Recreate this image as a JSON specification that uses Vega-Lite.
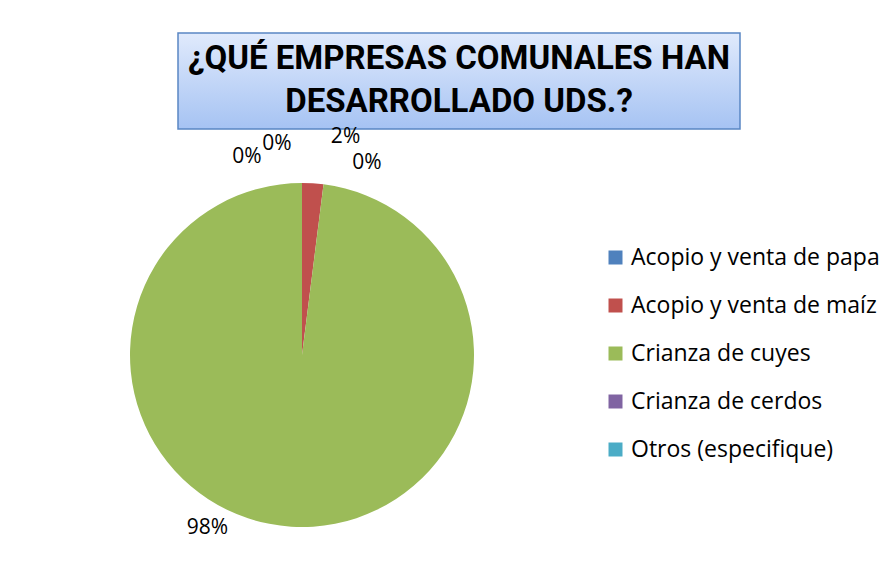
{
  "$schema": "https://vega.github.io/schema/vega-lite/v6.json",
  "background": "white",
  "padding": {"left": 130, "top": 32, "right": 0, "bottom": 0},
  "config": {"view": {"stroke": null}, "font": "Open Sans"},
  "bounds": "flush",
  "spacing": 140,
  "vconcat": [
    {
      "spacing": 0,
      "bounds": "flush",
      "hconcat": [
        {"width": 48, "height": 96, "data": {"values": []}, "mark": {"type": "text"}, "encoding": {}},
        {
          "width": 562,
          "height": 96,
          "data": {"values": [{"title": "¿QUÉ EMPRESAS COMUNALES HAN\nDESARROLLADO UDS.?"}]},
          "layer": [
            {
              "mark": {
                "type": "rect",
                "fill": {"gradient": "linear", "x1": 0, "y1": 0, "x2": 0, "y2": 1,
                  "stops": [{"offset": 0, "color": "#e0eafc"}, {"offset": 1, "color": "#a6c3f3"}]},
                "stroke": "#5a86c3",
                "strokeWidth": 1.5
              },
              "encoding": {}
            },
            {
              "mark": {"type": "text", "font": "Roboto", "fontWeight": "bold", "fontSize": 33, "lineBreak": "\n", "lineHeight": 43, "dy": -22, "align": "center", "baseline": "middle", "color": "black"},
              "encoding": {"text": {"field": "title"}}
            }
          ]
        }
      ]
    },
    {
      "width": 344,
      "height": 364,
      "data": {"values": [
        {"cat": "Acopio y venta de papa", "k": 1, "value": 0, "label": "0%"},
        {"cat": "Acopio y venta de maíz", "k": 2, "value": 2, "label": "2%"},
        {"cat": "Crianza de cuyes", "k": 3, "value": 98, "label": "98%"},
        {"cat": "Crianza de cerdos", "k": 4, "value": 0, "label": "0%"},
        {"cat": "Otros (especifique)", "k": 5, "value": 0, "label": "0%"}
      ]},
      "encoding": {
        "theta": {"field": "value", "type": "quantitative", "stack": true},
        "order": {"field": "k", "type": "quantitative"}
      },
      "layer": [
        {
          "mark": {"type": "arc", "outerRadius": 172},
          "encoding": {
            "color": {
              "field": "cat", "type": "nominal",
              "scale": {"domain": ["Acopio y venta de papa", "Acopio y venta de maíz", "Crianza de cuyes", "Crianza de cerdos", "Otros (especifique)"],
                        "range": ["#4f81bd", "#c0504d", "#9bbb59", "#8064a2", "#4bacc6"]},
              "legend": {"orient": "none", "legendX": 474, "legendY": 213, "title": null, "symbolType": "square", "symbolSize": 196, "symbolStrokeWidth": 0, "labelFontSize": 23, "labelFont": "Open Sans", "labelColor": "black", "rowPadding": 24, "labelOffset": 4, "labelLimit": 400}
            }
          }
        },
        {
          "mark": {
            "type": "text", "radius": 200, "fontSize": 21, "font": "Open Sans", "color": "black", "align": "center", "baseline": "middle",
            "dx": {"expr": "datum.cat === 'Acopio y venta de papa' ? 65 : datum.cat === 'Acopio y venta de maíz' ? 31 : datum.cat === 'Crianza de cuyes' ? -82 : datum.cat === 'Crianza de cerdos' ? -25 : -55"},
            "dy": {"expr": "datum.cat === 'Acopio y venta de papa' ? 8 : datum.cat === 'Acopio y venta de maíz' ? -18 : datum.cat === 'Crianza de cuyes' ? -27 : datum.cat === 'Crianza de cerdos' ? -11 : 2"}
          },
          "encoding": {"text": {"field": "label"}}
        }
      ]
    }
  ]
}
